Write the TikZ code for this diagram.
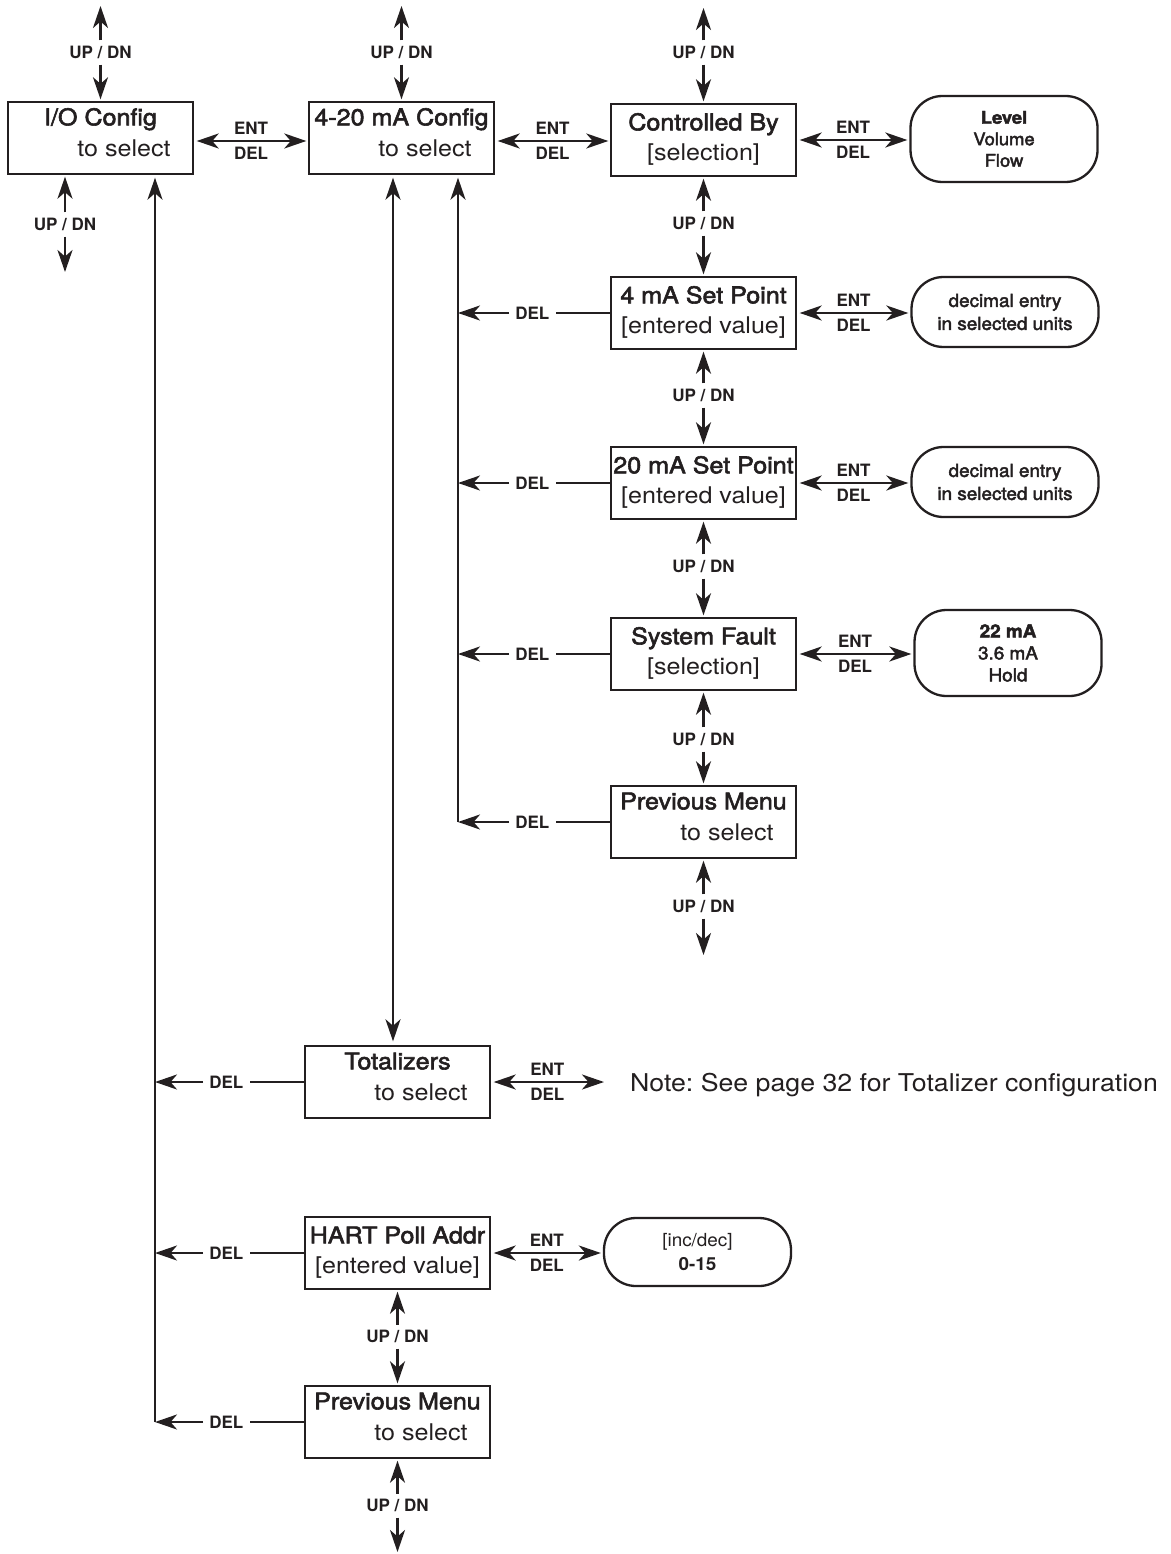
\documentclass[tikz,border=0pt]{standalone}
\usepackage{fontspec}
\setmainfont{TeX Gyre Heros}
\newfontfamily\bxfont[FakeStretch=1.09]{TeX Gyre Heros}
\newfontfamily\bxmed[FakeStretch=1.09,FakeBold=2.5]{TeX Gyre Heros}
\newfontfamily\opfont[FakeStretch=1.05]{TeX Gyre Heros}
\newfontfamily\opmed[FakeStretch=1.05,FakeBold=2.5]{TeX Gyre Heros}
\usetikzlibrary{arrows.meta}
\definecolor{ink}{HTML}{231F20}
\newcommand\selbox[4]{%
  \node[box] (#1) at (#2) {};
  \node[ttl] (#1-t) at ([yshift=-24pt]#1.north) {#3};
  \node[sub] (#1-s) at ([xshift=23.5pt,yshift=-55pt]#1.north) {#4};}
\newcommand\valbox[4]{%
  \node[box] (#1) at (#2) {};
  \node[ttl] (#1-t) at ([yshift=-27pt]#1.north) {#3};
  \node[sub] (#1-s) at ([yshift=-57pt]#1.north) {#4};}
\begin{document}
\frenchspacing
\begin{tikzpicture}[x=1pt,y=-1pt,
  box/.style={draw=ink, line width=1.4pt, minimum width=185pt, minimum height=72pt, inner sep=0pt},
  opt/.style={draw=ink, line width=2.3pt, rounded corners=32pt, align=center, inner sep=0pt, text=ink, minimum width=187pt},
  ttl/.style={anchor=base, inner sep=0pt, font=\bxmed\fontsize{23}{26}\selectfont, text=ink},
  sub/.style={anchor=base, inner sep=0pt, font=\bxfont\fontsize{23}{26}\selectfont, text=ink},
  lbl/.style={font=\bfseries\fontsize{17}{19}\selectfont, text=ink, inner sep=0pt},
  con/.style={draw=ink, line width=2.6pt},
  tip/.tip={Stealth[length=22pt,width=15pt,inset=6.5pt]},
  arr/.style={con, -tip},
  darr/.style={con, tip-tip},
]
\fill[white] (0,0) rectangle (1170,1554);
\useasboundingbox (0,0) rectangle (1170,1554);

% ---- boxes ----
\selbox{io}{100.5,138}{I/O Config}{to select}
\selbox{ma}{401.5,138}{4-20 mA Config}{to select}
\valbox{cb}{703.5,140}{Controlled By}{[selection]}
\valbox{sp4}{703.5,313}{4 mA Set Point}{[entered value]}
\valbox{sp20}{703.5,483}{20 mA Set Point}{[entered value]}
\valbox{sf}{703.5,654}{System Fault}{[selection]}
\selbox{pm1}{703.5,822}{Previous Menu}{to select}
\selbox{tot}{397.5,1082}{Totalizers}{to select}
\valbox{hart}{397.5,1253}{HART Poll Addr}{[entered value]}
\selbox{pm2}{397.5,1422}{Previous Menu}{to select}

% ---- option boxes ----
\node[opt, minimum height=86pt, font=\opmed\fontsize{17.5}{21.5}\selectfont] (lvf) at (1004,139)
  {{\bfseries Level}\\Volume\\Flow};
\node[opt, minimum height=70pt, font=\opmed\fontsize{18}{23}\selectfont] (de1) at (1005,312)
  {decimal entry\\in selected units};
\node[opt, minimum height=70pt, font=\opmed\fontsize{18}{23}\selectfont] (de2) at (1005,482)
  {decimal entry\\in selected units};
\node[opt, minimum height=86pt, font=\opmed\fontsize{18}{22}\selectfont] (flt) at (1008,653)
  {{\bfseries 22 mA}\\3.6 mA\\Hold};
\node[opt, minimum height=68pt, font=\opfont\fontsize{18}{24}\selectfont] (inc) at (697.5,1252)
  {[inc/dec]\\{\bfseries 0-15}};

\node[anchor=base west, inner sep=0pt, text=ink, font=\bxfont\fontsize{24.5}{28}\selectfont] (note) at (630,1091)
  {Note: See page 32 for Totalizer configuration};

% ---- ENT / DEL horizontal ----
\draw[darr, shorten <=3pt, shorten >=2pt] ([yshift=-3pt]io.east) -- ([yshift=-3pt]io.east -| ma.west)
  node[midway, above=5pt, lbl] (e1) {ENT} node[midway, below=5pt, lbl] (l1) {DEL};
\draw[darr, shorten <=3pt, shorten >=2pt] ([yshift=-3pt]ma.east) -- ([yshift=-3pt]ma.east -| cb.west)
  node[midway, above=5pt, lbl] (e2) {ENT} node[midway, below=5pt, lbl] (l2) {DEL};
\draw[darr, shorten <=3pt, shorten >=2pt] (cb.east) -- (cb.east -| lvf.west)
  node[midway, above=5pt, lbl] (e3) {ENT} node[midway, below=5pt, lbl] (l3) {DEL};
\draw[darr, shorten <=3pt, shorten >=2pt] (sp4.east) -- (sp4.east -| de1.west)
  node[midway, above=5pt, lbl] (e4) {ENT} node[midway, below=5pt, lbl] (l4) {DEL};
\draw[darr, shorten <=3pt, shorten >=2pt] (sp20.east) -- (sp20.east -| de2.west)
  node[midway, above=5pt, lbl] (e5) {ENT} node[midway, below=5pt, lbl] (l5) {DEL};
\draw[darr, shorten <=3pt, shorten >=2pt] (sf.east) -- (sf.east -| flt.west)
  node[midway, above=5pt, lbl] (e6) {ENT} node[midway, below=5pt, lbl] (l6) {DEL};
\coordinate (totx) at (604,1082);
\draw[darr, shorten <=3pt] (tot.east) -- (totx)
  node[midway, above=5pt, lbl] (e7) {ENT} node[midway, below=5pt, lbl] (l7) {DEL};
\draw[darr, shorten <=3pt, shorten >=2pt] (hart.east) -- (hart.east -| inc.west)
  node[midway, above=5pt, lbl] (e8) {ENT} node[midway, below=5pt, lbl] (l8) {DEL};

% ---- UP / DN vertical ----
\coordinate (t1) at (100.5,6);
\coordinate (t2) at (401.5,6);
\coordinate (t3) at (703.5,8);
\coordinate (b4) at (65,272);
\coordinate (b9) at (703.5,955);
\coordinate (b11) at (397.5,1552);

\node[lbl] (u1) at (100.5,52) {UP / DN};
\draw[arr] ([yshift=5pt]u1.north) -- (t1);
\draw[arr, shorten >=2pt] ([yshift=-6pt]u1.south) -- (u1.south |- io.north);

\node[lbl] (u2) at (401.5,52) {UP / DN};
\draw[arr] ([yshift=5pt]u2.north) -- (t2);
\draw[arr, shorten >=2pt] ([yshift=-6pt]u2.south) -- (u2.south |- ma.north);

\node[lbl] (u3) at (703.5,52) {UP / DN};
\draw[arr] ([yshift=5pt]u3.north) -- (t3);
\draw[arr, shorten >=2pt] ([yshift=-6pt]u3.south) -- (u3.south |- cb.north);

\node[lbl] (u4) at (65,224) {UP / DN};
\draw[arr, shorten >=2pt] ([yshift=5pt]u4.north) -- (u4.north |- io.south);
\draw[arr] ([yshift=-6pt]u4.south) -- (b4);

\node[lbl] (u5) at (703.5,223) {UP / DN};
\draw[arr, shorten >=2pt] ([yshift=5pt]u5.north) -- (u5.north |- cb.south);
\draw[arr, shorten >=2pt] ([yshift=-6pt]u5.south) -- (u5.south |- sp4.north);

\node[lbl] (u6) at (703.5,395) {UP / DN};
\draw[arr, shorten >=2pt] ([yshift=5pt]u6.north) -- (u6.north |- sp4.south);
\draw[arr, shorten >=2pt] ([yshift=-6pt]u6.south) -- (u6.south |- sp20.north);

\node[lbl] (u7) at (703.5,566) {UP / DN};
\draw[arr, shorten >=2pt] ([yshift=5pt]u7.north) -- (u7.north |- sp20.south);
\draw[arr, shorten >=2pt] ([yshift=-6pt]u7.south) -- (u7.south |- sf.north);

\node[lbl] (u8) at (703.5,739) {UP / DN};
\draw[arr, shorten >=2pt] ([yshift=5pt]u8.north) -- (u8.north |- sf.south);
\draw[arr, shorten >=2pt] ([yshift=-6pt]u8.south) -- (u8.south |- pm1.north);

\node[lbl] (u9) at (703.5,906) {UP / DN};
\draw[arr, shorten >=2pt] ([yshift=5pt]u9.north) -- (u9.north |- pm1.south);
\draw[arr] ([yshift=-6pt]u9.south) -- (b9);

\node[lbl] (u10) at (397.5,1336) {UP / DN};
\draw[arr, shorten >=2pt] ([yshift=5pt]u10.north) -- (u10.north |- hart.south);
\draw[arr, shorten >=2pt] ([yshift=-6pt]u10.south) -- (u10.south |- pm2.north);

\node[lbl] (u11) at (397.5,1505) {UP / DN};
\draw[arr, shorten >=2pt] ([yshift=5pt]u11.north) -- (u11.north |- pm2.south);
\draw[arr] ([yshift=-6pt]u11.south) -- (b11);

% ---- DEL buses ----
\coordinate (ib) at (458,822);
\coordinate (lb) at (155,1422);
\coordinate (dx) at (393,600);
\draw[arr, shorten >=3pt] (ib) -- (ib |- ma.south);
\draw[arr, shorten >=3pt] (lb) -- (lb |- io.south);
\draw[darr, shorten <=3pt, shorten >=4pt] (dx |- ma.south) -- (dx |- tot.north);

% inner DEL arrows
\node[lbl] (d1) at ([xshift=-78pt]sp4.west) {DEL};
\draw[con] (sp4.west) -- ([xshift=6pt]d1.east);
\draw[arr] ([xshift=-6pt]d1.west) -- (d1.west -| ib);
\node[lbl] (d2) at ([xshift=-78pt]sp20.west) {DEL};
\draw[con] (sp20.west) -- ([xshift=6pt]d2.east);
\draw[arr] ([xshift=-6pt]d2.west) -- (d2.west -| ib);
\node[lbl] (d3) at ([xshift=-78pt]sf.west) {DEL};
\draw[con] (sf.west) -- ([xshift=6pt]d3.east);
\draw[arr] ([xshift=-6pt]d3.west) -- (d3.west -| ib);
\node[lbl] (d4) at ([xshift=-78pt]pm1.west) {DEL};
\draw[con] (pm1.west) -- ([xshift=6pt]d4.east);
\draw[arr] ([xshift=-6pt]d4.west) -- (d4.west -| ib);

% outer DEL arrows
\node[lbl] (d5) at ([xshift=-78pt]tot.west) {DEL};
\draw[con] (tot.west) -- ([xshift=6pt]d5.east);
\draw[arr] ([xshift=-6pt]d5.west) -- (d5.west -| lb);
\node[lbl] (d6) at ([xshift=-78pt]hart.west) {DEL};
\draw[con] (hart.west) -- ([xshift=6pt]d6.east);
\draw[arr] ([xshift=-6pt]d6.west) -- (d6.west -| lb);
\node[lbl] (d7) at ([xshift=-78pt]pm2.west) {DEL};
\draw[con] (pm2.west) -- ([xshift=6pt]d7.east);
\draw[arr] ([xshift=-6pt]d7.west) -- (d7.west -| lb);
\end{tikzpicture}
\end{document}
